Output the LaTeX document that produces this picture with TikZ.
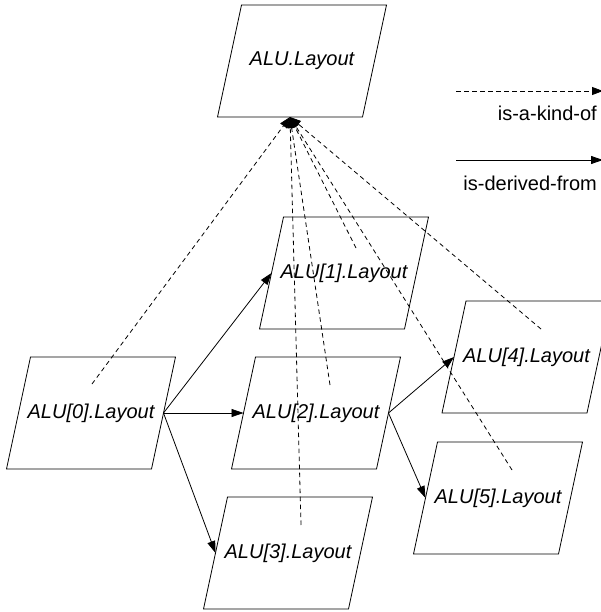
\documentclass[tikz,border=0pt]{standalone}
\usepackage{fontspec}
\setmainfont{Liberation Sans}
\usetikzlibrary{arrows.meta,calc}
\begin{document}
\begin{tikzpicture}[x=1pt,y=-1pt,
  para/.style={rectangle, minimum width=145pt, minimum height=112pt,
    inner sep=0pt, outer sep=0pt,
    font=\fontsize{20}{24}\selectfont\itshape},
  outline/.style={line width=0.8pt},
  derived/.style={line width=0.8pt, -{Triangle[length=12pt,width=8pt]}},
  kindof/.style={line width=0.8pt, dash pattern=on 4.5pt off 3.5pt,
    -{Triangle[length=11pt,width=8pt]}},
  legend/.style={anchor=east, inner sep=0pt, font=\fontsize{20}{24}\selectfont}]
\useasboundingbox (0,0) rectangle (601,612);

% layouts (the west/east anchors sit on the middle of the slanted sides)
\node[para] (top) at (302,61)  {ALU.Layout};
\node[para] (a0)  at (91,413)  {ALU[0].Layout};
\node[para] (a1)  at (344,273) {ALU[1].Layout};
\node[para] (a2)  at (316,413) {ALU[2].Layout};
\node[para] (a3)  at (288,553) {ALU[3].Layout};
\node[para] (a4)  at (526.5,357) {ALU[4].Layout};
\node[para] (a5)  at (498,498) {ALU[5].Layout};

% parallelogram outlines, leaning right
\foreach \n in {top,a0,a1,a2,a3,a4,a5}
  \draw[outline] ($(\n.center)+(-60.5,-56)$) -- ($(\n.center)+(84.5,-56)$)
    -- ($(\n.center)+(60.5,56)$) -- ($(\n.center)+(-84.5,56)$) -- cycle;

% derivation arrows
\draw[derived] (a0.east) -- (a1.west);
\draw[derived] (a0.east) -- (a2.west);
\draw[derived] (a0.east) -- (a3.west);
\draw[derived] (a2.east) -- (a4.west);
\draw[derived] (a2.east) -- (a5.west);

% kind-of arrows, each starting just above a label
\coordinate (apex) at ($(top.south)+(-12,0)$);
\coordinate (k0) at ($(a0.center)+(1,-29)$);
\coordinate (k1) at ($(a1.center)+(12,-25)$);
\coordinate (k2) at ($(a2.center)+(14,-28)$);
\coordinate (k3) at ($(a3.center)+(13,-28)$);
\coordinate (k4) at ($(a4.center)+(14.5,-28)$);
\coordinate (k5) at ($(a5.center)+(14,-28)$);
\foreach \k in {k0,k1,k2,k3,k4,k5}
  \draw[kindof] (\k) -- (apex);

% legend
\coordinate (l1a) at (456,91);
\coordinate (l1b) at (603,91);
\coordinate (l2a) at (456,160);
\coordinate (l2b) at (603,160);
\draw[kindof] (l1a) -- (l1b);
\draw[derived] (l2a) -- (l2b);
\node[legend] (t1) at (597,113) {is-a-kind-of};
\node[legend] (t2) at (597,183) {is-derived-from};
\end{tikzpicture}
\end{document}
